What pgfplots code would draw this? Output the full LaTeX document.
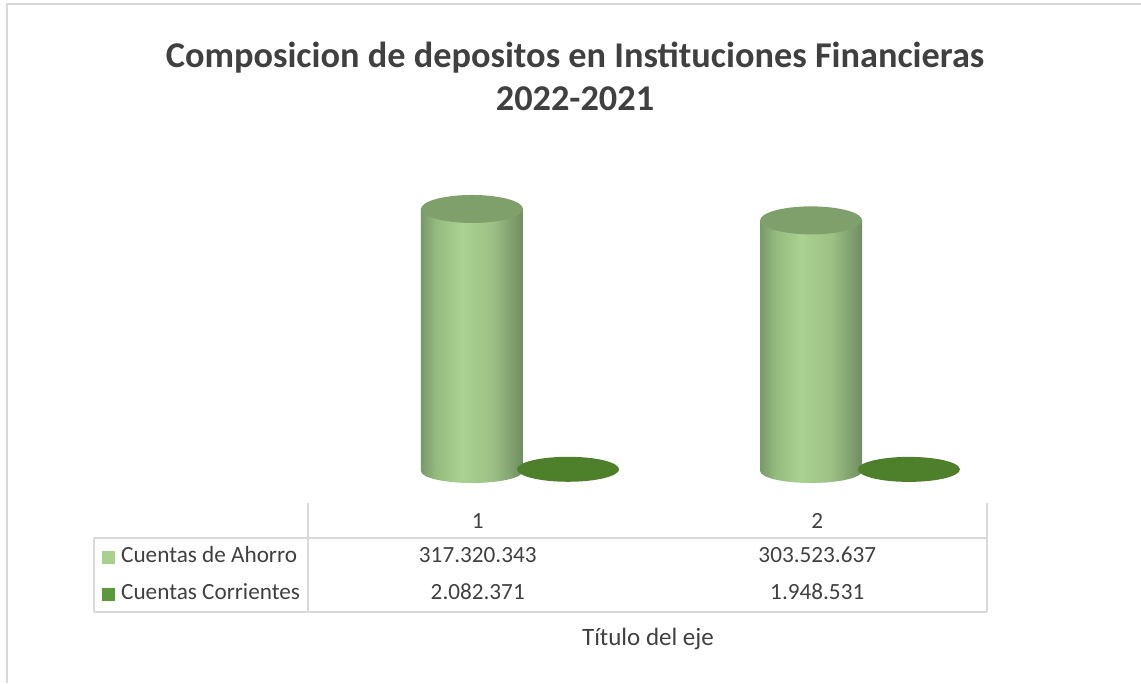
\documentclass[border=0pt]{standalone}
\usepackage{pgfplots}
\pgfplotsset{compat=1.18}
\usepackage{fontspec}
\setmainfont{Carlito}
\definecolor{txt}{HTML}{404040}
\definecolor{gridc}{HTML}{D9D9D9}
\definecolor{cylL}{HTML}{ABD291}
\definecolor{cylD}{HTML}{7A9868}
\definecolor{cylM}{HTML}{95BA7E}
\definecolor{cylN}{HTML}{9CC085}
\definecolor{cylR}{HTML}{6F8D5F}
\definecolor{cylTop}{HTML}{7FA06A}
\definecolor{corr}{HTML}{4E7F2A}
\definecolor{keyA}{HTML}{A9D18E}
\definecolor{keyB}{HTML}{5B9A38}
\pgfdeclarehorizontalshading{cylshade}{100bp}{color(0bp)=(cylD); color(25bp)=(cylD); color(32.5bp)=(cylM); color(45bp)=(cylL); color(60bp)=(cylN); color(75bp)=(cylR); color(100bp)=(cylR)}

\pgfdeclareplotmark{cyltop}{%
  \fill[cylTop, draw=none, rotate=5] (canvas cs:x=0pt,y=0pt) ellipse [x radius=51pt, y radius=14pt];}
\pgfdeclareplotmark{cylbase}{%
  \shade[draw=none, shading=cylshade, rotate=5] (canvas cs:x=0pt,y=0pt) ellipse [x radius=51pt, y radius=12pt];}
\pgfdeclareplotmark{flat}{%
  \fill[corr, draw=none, rotate=6] (canvas cs:x=0pt,y=0pt) ellipse [x radius=51pt, y radius=12.5pt];}

\begin{document}
\begin{tikzpicture}[x=1pt,y=1pt]
\path[use as bounding box] (0,0) rectangle (1141,683);
% frame
\draw[gridc, line width=2pt] (6.5,0) -- (6.5,679) -- (1141,679);
% title
\node[anchor=base, inner sep=0, text=txt, font=\fontsize{36.3}{42}\selectfont\bfseries] at (575,615) {Composicion de depositos en Instituciones Financieras};
\node[anchor=base, inner sep=0, text=txt, font=\fontsize{36.3}{42}\selectfont\bfseries] at (575,572) {2022-2021};

\begin{axis}[
  at={(308pt,212pt)}, anchor=south west,
  scale only axis, width=679pt, height=330.3pt,
  xmin=0.5, xmax=2.5, ymin=0, ymax=400000000,
  clip=false,
  axis x line*=bottom, axis y line=none,
  x axis line style={draw=none},
  major tick length=0pt, tick style={draw=none},
  ytick=\empty,
  xtick={1,2}, xticklabels={{1},{2}},
  xticklabel style={anchor=base, yshift=-58pt, inner sep=0pt, text=txt, font=\fontsize{23.2}{27}\selectfont},
]
\addplot[only marks, mark=cylbase] table {
x y
0.983 0
1.982 0
};
\addplot[ybar, bar width=102pt, bar shift=0pt, draw=none, shading=cylshade] table {
x y
0.983 317320343
};
\addplot[ybar, bar width=102pt, bar shift=0pt, draw=none, shading=cylshade] table {
x y
1.982 303523637
};
\addplot[only marks, mark=cyltop] table {
x y
0.983 317320343
1.982 303523637
};
\addplot[only marks, mark=flat] table {
x y
1.266 2082371
2.270 1948531
};
\end{axis}

% data table
\draw[gridc, line width=1.5pt] (308,180) -- (308,71);
\draw[gridc, line width=1.5pt] (987,180) -- (987,71);
\draw[gridc, line width=1.5pt] (94,145) -- (987,145);
\draw[gridc, line width=1.5pt] (94,71) -- (987,71);
\draw[gridc, line width=1.5pt] (94,145) -- (94,71);
\fill[keyA] (102,118.5) rectangle (115,131.5);
\fill[keyB] (102,81.5) rectangle (115,94.5);
\begin{scope}[every node/.style={inner sep=0, text=txt, font=\fontsize{23.2}{27}\selectfont}]
\node[anchor=base west] at (121,120) {Cuentas de Ahorro};
\node[anchor=base west] at (121,83) {Cuentas Corrientes};
\node[anchor=base] at (477.75,120) {317.320.343};
\node[anchor=base] at (817.25,120) {303.523.637};
\node[anchor=base] at (477.75,83) {2.082.371};
\node[anchor=base] at (817.25,83) {1.948.531};
\end{scope}
\node[anchor=base, inner sep=0, text=txt, font=\fontsize{25}{30}\selectfont] at (648,37) {Título del eje};
\end{tikzpicture}
\end{document}
